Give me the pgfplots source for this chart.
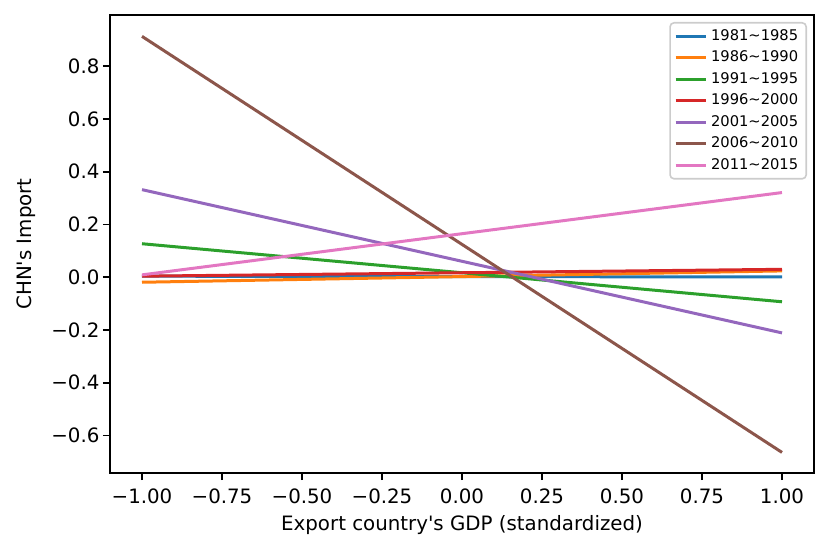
\documentclass[border=0pt]{standalone}
\usepackage{fontspec}
\setmainfont{DejaVu Sans}
\setsansfont{DejaVu Sans}
\usepackage{pgfplots}
\pgfplotsset{compat=1.18}
\definecolor{c0}{HTML}{1F77B4}
\definecolor{c1}{HTML}{FF7F0E}
\definecolor{c2}{HTML}{2CA02C}
\definecolor{c3}{HTML}{D62728}
\definecolor{c4}{HTML}{9467BD}
\definecolor{c5}{HTML}{8C564B}
\definecolor{c6}{HTML}{E377C2}
\begin{document}
\begin{tikzpicture}
\begin{axis}[
  at={(0,0)}, anchor=south west,
  width=704bp, height=458bp, scale only axis,
  xmin=-1.1, xmax=1.1, ymin=-0.742, ymax=0.994,
  xtick={-1,-0.75,-0.5,-0.25,0,0.25,0.5,0.75,1},
  xticklabels={−1.00,−0.75,−0.50,−0.25,0.00,0.25,0.50,0.75,1.00},
  ytick={-0.6,-0.4,-0.2,0,0.2,0.4,0.6,0.8},
  yticklabels={−0.6,−0.4,−0.2,0.0,0.2,0.4,0.6,0.8},
  xtick pos=left, ytick pos=left,
  ticklabel style={font=\fontsize{19.8bp}{23bp}\selectfont},
  xticklabel style={yshift=-5bp},
  label style={font=\fontsize{19.8bp}{23bp}\selectfont},
  xlabel={Export country\textquotesingle s GDP (standardized)},
  ylabel={CHN\textquotesingle s Import},
  xlabel style={yshift=-5bp},
  ylabel style={yshift=9bp},
  tick align=outside, tick style={black, line width=1.6bp},
  major tick length=7bp,
  axis line style={line width=1.6bp},
  legend style={at={(1,1)}, anchor=north east, xshift=-7bp, yshift=-7bp,
    font=\fontsize{14.7bp}{17bp}\selectfont, draw=black!20, fill=white, fill opacity=0.8, text opacity=1,
    rounded corners=4bp, line width=1.6bp,
    nodes={inner xsep=4bp, inner ysep=1.5bp, text height=11bp, text depth=3bp}, row sep=4.5bp, inner xsep=4bp, inner ysep=5bp},
  legend cell align=left,
  legend image code/.code={\draw[#1, line width=3bp] (0bp,0bp) -- (30bp,0bp);},
]
\addplot[c0, line width=3bp] coordinates {(-1,0.004) (1,0.001)};
\addplot[c1, line width=3bp] coordinates {(-1,-0.019) (1,0.024)};
\addplot[c2, line width=3bp] coordinates {(-1,0.127) (1,-0.093)};
\addplot[c3, line width=3bp] coordinates {(-1,0.004) (1,0.030)};
\addplot[c4, line width=3bp] coordinates {(-1,0.332) (1,-0.211)};
\addplot[c5, line width=3bp] coordinates {(-1,0.913) (1,-0.664)};
\addplot[c6, line width=3bp] coordinates {(-1,0.009) (1,0.321)};
\legend{1981\textasciitilde1985,1986\textasciitilde1990,1991\textasciitilde1995,1996\textasciitilde2000,2001\textasciitilde2005,2006\textasciitilde2010,2011\textasciitilde2015}
\end{axis}
\pgfresetboundingbox
\useasboundingbox (-110bp,-80bp) rectangle (721bp,473bp);
\end{tikzpicture}
\end{document}
